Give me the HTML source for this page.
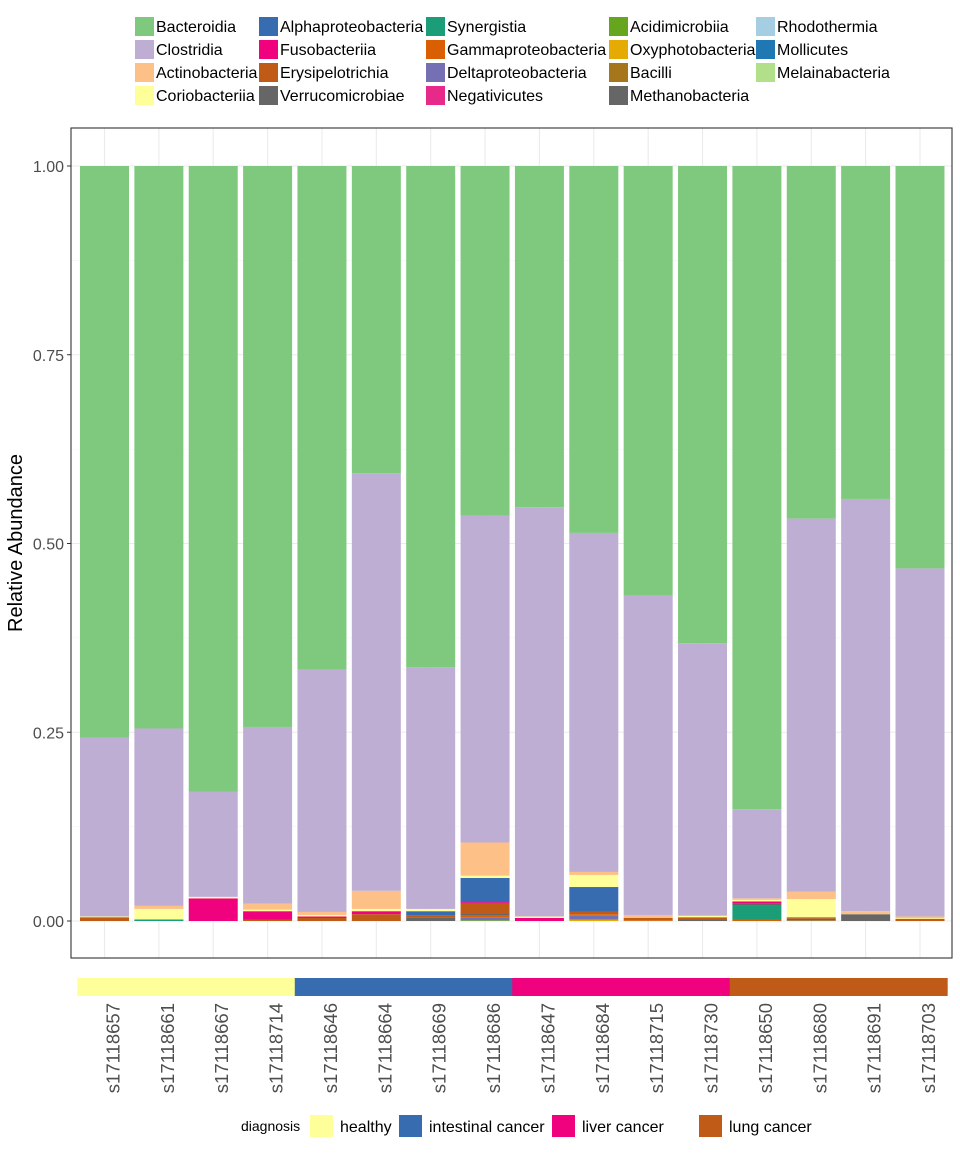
<!DOCTYPE html>
<html><head><meta charset="utf-8"><style>
body{margin:0;background:#fff;font-family:"Liberation Sans",sans-serif}
svg text{font-family:"Liberation Sans",sans-serif}
</style></head><body>
<svg id="chart" width="960" height="1152" xmlns="http://www.w3.org/2000/svg"></svg>
<script>
const samples=["s17118657","s17118661","s17118667","s17118714","s17118646","s17118664","s17118669","s17118686","s17118647","s17118684","s17118715","s17118730","s17118650","s17118680","s17118691","s17118703"];
const diagnosis=["healthy","healthy","healthy","healthy","intestinal cancer","intestinal cancer","intestinal cancer","intestinal cancer","liver cancer","liver cancer","liver cancer","liver cancer","lung cancer","lung cancer","lung cancer","lung cancer"];
const diagLevels=["healthy","intestinal cancer","liver cancer","lung cancer"];
const diagColors=["#ffff99","#386cb0","#f0027f","#bf5b17"];
const classes=["Bacteroidia","Clostridia","Actinobacteria","Coriobacteriia","Alphaproteobacteria","Fusobacteriia","Erysipelotrichia","Verrucomicrobiae","Synergistia","Gammaproteobacteria","Deltaproteobacteria","Negativicutes","Acidimicrobiia","Oxyphotobacteria","Bacilli","Methanobacteria","Rhodothermia","Mollicutes","Melainabacteria"];
const classColors=["#7fc97f","#beaed4","#fdc086","#ffff99","#386cb0","#f0027f","#bf5b17","#666666","#1b9e77","#d95f02","#7570b3","#e7298a","#66a61e","#e6ab02","#a6761d","#666666","#a6cee3","#1f78b4","#b2df8a"];
const bacteroidia=[0.757,0.745,0.829,0.743,0.667,0.407,0.664,0.463,0.452,0.486,0.569,0.632,0.852,0.467,0.441,0.533];
const clostridia=[0.237,0.235,0.139,0.234,0.321,0.553,0.320,0.433,0.542,0.449,0.423,0.361,0.118,0.494,0.546,0.461];
const actinobacteria=[0,0.004,0,0.008,0.004,0.024,0,0.044,0,0.004,0.004,0,0.002,0.010,0.004,0.002];
const coriobacteriia=[0.001,0.014,0.002,0.002,0.002,0.003,0.003,0.003,0.002,0.016,0,0.002,0.002,0.024,0,0.001];
const alphaproteobacteria=[0,0,0,0,0,0,0.006,0.032,0,0.033,0,0,0,0,0,0];
const fusobacteriia=[0,0,0.030,0.011,0.002,0.004,0,0.002,0.004,0,0,0,0.003,0,0,0];
const erysipelotrichia=[0.005,0,0,0.002,0.004,0.009,0.002,0.013,0,0.003,0.003,0.003,0,0.002,0,0.003];
const verrucomicrobiae=[0,0,0,0,0,0,0.005,0.003,0,0,0,0.002,0.003,0.002,0.009,0];
const synergistia=[0,0.002,0,0,0,0,0,0,0,0,0,0,0.018,0,0,0];
const gammaproteobacteria=[0,0,0,0,0,0,0,0.002,0,0.002,0.001,0,0.002,0,0,0];
const deltaproteobacteria=[0,0,0,0,0,0,0,0.004,0,0.005,0,0,0,0,0,0];
const negativicutes=[0,0,0,0,0,0,0,0,0,0,0,0,0,0,0,0];
const acidimicrobiia=[0,0,0,0,0,0,0,0.001,0,0,0,0,0,0,0,0];
const oxyphotobacteria=[0,0,0,0,0,0,0,0,0,0.002,0,0,0,0,0,0];
const bacilli=[0,0,0,0,0,0,0,0,0,0,0,0,0,0.001,0,0];
const zeros=[0,0,0,0,0,0,0,0,0,0,0,0,0,0,0,0];
const series=[bacteroidia,clostridia,actinobacteria,coriobacteriia,alphaproteobacteria,fusobacteriia,erysipelotrichia,verrucomicrobiae,synergistia,gammaproteobacteria,deltaproteobacteria,negativicutes,acidimicrobiia,oxyphotobacteria,bacilli,zeros,zeros,zeros,zeros];
const yTicks=[0,0.25,0.5,0.75,1];
const yTickLabels=["0.00","0.25","0.50","0.75","1.00"];

const svg=document.getElementById('chart');
const NS="http://www.w3.org/2000/svg";
function mk(tag,attrs,parent){const e=document.createElementNS(NS,tag);for(const k in attrs)e.setAttribute(k,attrs[k]);(parent||svg).appendChild(e);return e;}
const P={l:71,r:952,t:128,b:958};
const y0=921,y1=166;
function yScale(v){return y0-(y0-y1)*v;}
const step=(920-104.5)/15;
function xCenter(i){return 104.5+i*step;}
const barW=49;

for(let v=0.125;v<1.1;v+=0.25){const g=mk('line',{x1:P.l,x2:P.r,y1:yScale(v),y2:yScale(v),stroke:'#f2f2f2','stroke-width':0.6});}
yTicks.forEach((v,i)=>{
 const g=mk('line',{x1:P.l,x2:P.r,y1:yScale(v),y2:yScale(v),stroke:'#ebebeb','stroke-width':1.1});
 
 const tk=mk('line',{x1:P.l-4,x2:P.l,y1:yScale(v),y2:yScale(v),stroke:'#333','stroke-width':1});
 
 const t=mk('text',{x:P.l-7,y:yScale(v)+6,'text-anchor':'end','font-size':16,fill:'#4d4d4d'});t.textContent=yTickLabels[i];
 
});
samples.forEach((s,i)=>{const g=mk('line',{x1:xCenter(i),x2:xCenter(i),y1:P.t,y2:P.b,stroke:'#ebebeb','stroke-width':1.1});});

samples.forEach((s,i)=>{
 let cum=0;
 for(let k=series.length-1;k>=0;k--){
  const v=series[k][i]; if(!v) continue;
  const top=yScale(cum+v),bot=yScale(cum);
  const r=mk('rect',{x:xCenter(i)-barW/2,y:top,width:barW,height:bot-top,fill:classColors[k]});
  
  
  cum+=v;
 }
});
const border=mk('rect',{x:P.l,y:P.t,width:P.r-P.l,height:P.b-P.t,fill:'none',stroke:'#333','stroke-width':1.1});


const yt=mk('text',{x:0,y:0,transform:'translate(22,543) rotate(-90)','text-anchor':'middle','font-size':20,fill:'#000'});yt.textContent='Relative Abundance';


samples.forEach((s,i)=>{
 const c=diagColors[diagLevels.indexOf(diagnosis[i])];
 const r=mk('rect',{x:xCenter(i)-step/2,y:978,width:step+0.5,height:18,fill:c});
 
 const t=mk('text',{x:0,y:0,transform:`translate(${xCenter(i)+15},1003) rotate(-90)`,'text-anchor':'end','font-size':18.5,fill:'#4d4d4d'});t.textContent=s;
 
});

const legCols=[134,258,425,608,755],legRows=[16,39,62,85];
classes.forEach((c,k)=>{
 const col=Math.floor(k/4),row=k%4;
 const g=mk('g',{});
 mk('rect',{x:legCols[col]+1,y:legRows[row]+1,width:19,height:19,fill:classColors[k]},g);
 const t=mk('text',{x:legCols[col]+22,y:legRows[row]+16,'font-size':16,fill:'#000'},g);t.textContent=c;
});

const lt=mk('text',{x:241,y:1131,'font-size':14,fill:'#000'});lt.textContent='diagnosis';

const dx=[310,399,552,699];
diagLevels.forEach((d,k)=>{
 const g=mk('g',{});
 mk('rect',{x:dx[k],y:1115,width:23,height:22,fill:diagColors[k]},g);
 const t=mk('text',{x:dx[k]+30,y:1132,'font-size':16,fill:'#000'},g);t.textContent=d;
});
</script>
</body></html>
